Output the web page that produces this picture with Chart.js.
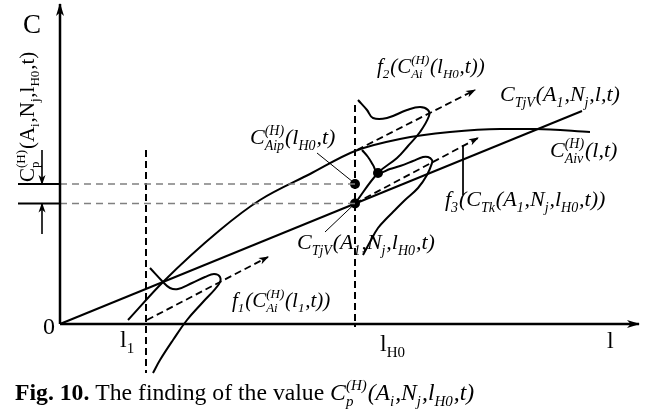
<!DOCTYPE html>
<html><head><meta charset="utf-8">
<script src="https://cdn.jsdelivr.net/npm/chart.js@4.4.1/dist/chart.umd.min.js"></script>
<style>html,body{margin:0;padding:0;background:#fff;}canvas{display:block}</style>
</head><body>
<canvas id="c" width="649" height="420"></canvas>
<script>
// ---------- data (x = l, y = C; schematic units) ----------
const l1 = 17.2;
const lH0 = 59;
const cpLevel = 28;        // C_p^(H)(A_i,N_j,l_H0,t)
const ctjvLevel = 24.1;    // C_TjV(A_1,N_j,l_H0,t)
const axisX = [[0,0],[115.8,0]];
const axisY = [[0,0],[0,64]];
const cTjV = [[0,0],[104.4,42.6]];
const cAiv = [[13.6,0.8],[20.6,8.4],[32,18.8],[40,24.8],[50,30],[59,34.6],[68,37],[78,38.4],[88,39],[95,39],[106,38.4]];
const f1Curve = [[18,11.2],[20.6,8.4],[22,7.2],[23.6,7],[26.4,8.2],[29,9.4],[30.8,10],[32,9.4],[31.8,8],[28.6,4.4],[25.4,0.8],[22.6,-3.2],[20,-7.2],[18.6,-9.8]];
const f1Arrow = [[17.4,0.8],[41.6,13.4]];
const f2Curve = [[59.6,44.8],[61.4,42.8],[62.6,41.2],[65.4,41.2],[69.4,42.8],[72,43.4],[73.6,42.8],[73.8,41.6],[72,38.4],[69.6,35.6],[67.4,33.2],[63.6,30.2],[59,24.1]];
const f2Arrow = [[59.4,34.8],[83,46.8]];
const f3Curve = [[60.4,34.8],[61.6,33.4],[62.6,31.8],[63.6,30.2],[66,31],[68,31.6],[70.6,32.6],[72.6,33.4],[73.6,33.4],[74.4,32.8],[74.4,32.2],[73.4,29.8],[71.6,27.2],[69,24.8],[67,22.8],[65.4,21.2],[63.6,19.2],[62,16.4],[60.6,13.8]];
const f3Arrow = [[59,24.1],[83.6,37.2]];
const dots = [[lH0,cpLevel],[lH0,ctjvLevel],[63.6,30.2]];
const vDash1 = [[l1,34.8],[l1,-9.8]];
const vDash2 = [[lH0,43.8],[lH0,-0.6]];
const hDash1 = [[0,cpLevel],[lH0,cpLevel]];
const hDash2 = [[0,ctjvLevel],[lH0,ctjvLevel]];
const bar1 = [[-8.4,cpLevel],[0,cpLevel]];
const bar2 = [[-8.4,ctjvLevel],[0,ctjvLevel]];
const arrDown = [[-3.6,34.8],[-3.6,cpLevel]];
const arrUp = [[-3.6,18],[-3.6,ctjvLevel]];
const lead1 = [[51.4,34.2],[58.6,28.4]];
const lead2 = [[53,18.4],[lH0,ctjvLevel]];
const lead3 = [[80.6,35.8],[80.6,25.8]];

// text labels: [x, y, text, size, style, rotation]
const labels = [
  [-7.4, 58.2, 'C', 27, '', 0],
  [-5.2, 28.4, 'C^{(H)}_{p}(A_{i},N_{j},l_{H0},t)', 21, '', -90],
  [63.4, 50.2, 'f_{2}(C^{(H)}_{Ai}(l_{H0},t))', 21, 'italic ', 0],
  [88, 44.6, 'C_{TjV}(A_{1},N_{j},l,t)', 22, 'italic ', 0],
  [98, 33.4, 'C^{(H)}_{Aiv}(l,t)', 22, 'italic ', 0],
  [77, 23.6, 'f_{3}(C_{Tk}(A_{1},N_{j},l_{H0},t))', 22, 'italic ', 0],
  [38, 36, 'C^{(H)}_{Aip}(l_{H0},t)', 22, 'italic ', 0],
  [47.4, 15, 'C_{TjV}(A_{1},N_{j},l_{H0},t)', 22, 'italic ', 0],
  [34.4, 3.4, 'f_{1}(C^{(H)}_{Ai}(l_{1},t))', 21, 'italic ', 0],
  [-3.4, -2, '0', 24, '', 0],
  [12, -4.6, 'l_{1}', 24, '', 0],
  [64, -5.4, 'l_{H0}', 24, '', 0],
  [109.4, -4.8, 'l', 24, '', 0]
];
const caption = [
  ['Fig. 10.', 'bold '],
  [' The finding of the value ', ''],
  ['C^{(H)}_{p}(A_{i},N_{j},l_{H0},t)', 'italic ']
];
const captionPos = [-9, -15.2];

// ---------- helpers ----------
const FONT = '"Liberation Serif", "DejaVu Serif", serif';
function pts(a){ return a.map(([x,y]) => ({x, y})); }
function line(data, o){
  return Object.assign({data: pts(data), showLine: true, pointRadius: 0, borderColor: '#000',
    borderWidth: 2, tension: 0, fill: false, clip: false}, o || {});
}
function parseRich(s){
  const out = []; let buf = ''; let i = 0;
  while (i < s.length){
    const c = s[i];
    if ((c === '_' || c === '^') && s[i+1] === '{'){
      if (buf){ out.push({t:'n', s:buf}); buf=''; }
      const j = s.indexOf('}', i+2); const g = s.slice(i+2, j);
      const kind = c === '_' ? 'sub' : 'sup';
      const prev = out[out.length-1];
      if (prev && prev.t === 'x' && prev[kind] === undefined){ prev[kind] = g; }
      else { const o = {t:'x'}; o[kind] = g; out.push(o); }
      i = j + 1;
    } else { buf += c; i++; }
  }
  if (buf) out.push({t:'n', s:buf});
  return out;
}
function drawRich(ctx, s, x, y, size, style){
  const toks = parseRich(s); const ss = Math.round(size * 0.64);
  let cx = x;
  for (const tk of toks){
    if (tk.t === 'n'){
      ctx.font = style + size + 'px ' + FONT;
      ctx.fillText(tk.s, cx, y); cx += ctx.measureText(tk.s).width;
    } else {
      ctx.font = style + ss + 'px ' + FONT; let w = 0;
      if (tk.sub !== undefined){ ctx.fillText(tk.sub, cx, y + size*0.25); w = Math.max(w, ctx.measureText(tk.sub).width); }
      if (tk.sup !== undefined){ ctx.fillText(tk.sup, cx, y - size*0.42); w = Math.max(w, ctx.measureText(tk.sup).width); }
      cx += w + size*0.04;
    }
  }
  return cx - x;
}

const arrowPlugin = {
  id: 'arrows',
  afterDatasetsDraw(chart){
    const ctx = chart.ctx;
    chart.data.datasets.forEach((ds, i) => {
      if (!ds.arrow) return;
      const p = chart.getDatasetMeta(i).data;
      const a = p[p.length-2], b = p[p.length-1];
      const ang = Math.atan2(b.y - a.y, b.x - a.x);
      const L = ds.arrow[0], W = ds.arrow[1];
      ctx.save(); ctx.translate(b.x, b.y); ctx.rotate(ang);
      ctx.beginPath(); ctx.moveTo(1, 0); ctx.lineTo(-L, -W); ctx.lineTo(-L*0.7, 0); ctx.lineTo(-L, W); ctx.closePath();
      ctx.fillStyle = '#000'; ctx.fill(); ctx.restore();
    });
  }
};
const textPlugin = {
  id: 'texts',
  afterDraw(chart){
    const ctx = chart.ctx, xs = chart.scales.x, ys = chart.scales.y;
    ctx.save(); ctx.fillStyle = '#000'; ctx.textBaseline = 'alphabetic'; ctx.textAlign = 'left';
    for (const [x, y, t, size, style, rot] of labels){
      const px = xs.getPixelForValue(x), py = ys.getPixelForValue(y);
      ctx.save(); ctx.translate(px, py); ctx.rotate(rot * Math.PI / 180);
      drawRich(ctx, t, 0, 0, size, style); ctx.restore();
    }
    let cx = xs.getPixelForValue(captionPos[0]); const cy = ys.getPixelForValue(captionPos[1]);
    for (const [t, style] of caption){ cx += drawRich(ctx, t, cx, cy, 23.7, style); }
    ctx.restore();
  }
};

const dash = [7, 4];
const datasets = [
  line(axisX, {borderWidth: 2.5, arrow: [12, 4]}),
  line(axisY, {borderWidth: 2.5, arrow: [12, 4]}),
  line(hDash1, {borderColor: '#808080', borderWidth: 1.6, borderDash: [7, 5]}),
  line(hDash2, {borderColor: '#808080', borderWidth: 1.6, borderDash: [7, 5]}),
  line(vDash1, {borderWidth: 2, borderDash: dash}),
  line(vDash2, {borderWidth: 2, borderDash: dash}),
  line(cTjV, {borderWidth: 2}),
  line(cAiv, {borderWidth: 2, cubicInterpolationMode: 'monotone'}),
  line(f1Curve, {borderWidth: 2, tension: 0.4}),
  line(f2Curve, {borderWidth: 2, tension: 0.4}),
  line(f3Curve, {borderWidth: 2, tension: 0.4}),
  line(f1Arrow, {borderWidth: 1.8, borderDash: dash, arrow: [9, 3.5]}),
  line(f2Arrow, {borderWidth: 1.8, borderDash: dash, arrow: [9, 3.5]}),
  line(f3Arrow, {borderWidth: 1.8, borderDash: dash, arrow: [9, 3.5]}),
  line(bar1, {borderWidth: 2}),
  line(bar2, {borderWidth: 2}),
  line(arrDown, {borderWidth: 1.6, arrow: [9, 3.5]}),
  line(arrUp, {borderWidth: 1.6, arrow: [9, 3.5]}),
  line(lead1, {borderWidth: 1}),
  line(lead2, {borderWidth: 1}),
  line(lead3, {borderWidth: 1}),
  {data: pts(dots), showLine: false, pointRadius: 5, pointBackgroundColor: '#000', pointBorderColor: '#000', pointBorderWidth: 0, clip: false}
];

new Chart(document.getElementById('c'), {
  type: 'scatter',
  data: {datasets},
  options: {
    responsive: false, animation: false, devicePixelRatio: 1,
    layout: {padding: 0, autoPadding: false},
    plugins: {legend: {display: false}, tooltip: {enabled: false}, title: {display: false}},
    scales: {
      x: {type: 'linear', display: false, min: -12, max: 117.8},
      y: {type: 'linear', display: false, min: -19.2, max: 64.8}
    },
    events: []
  },
  plugins: [arrowPlugin, textPlugin]
});
</script>
</body></html>
